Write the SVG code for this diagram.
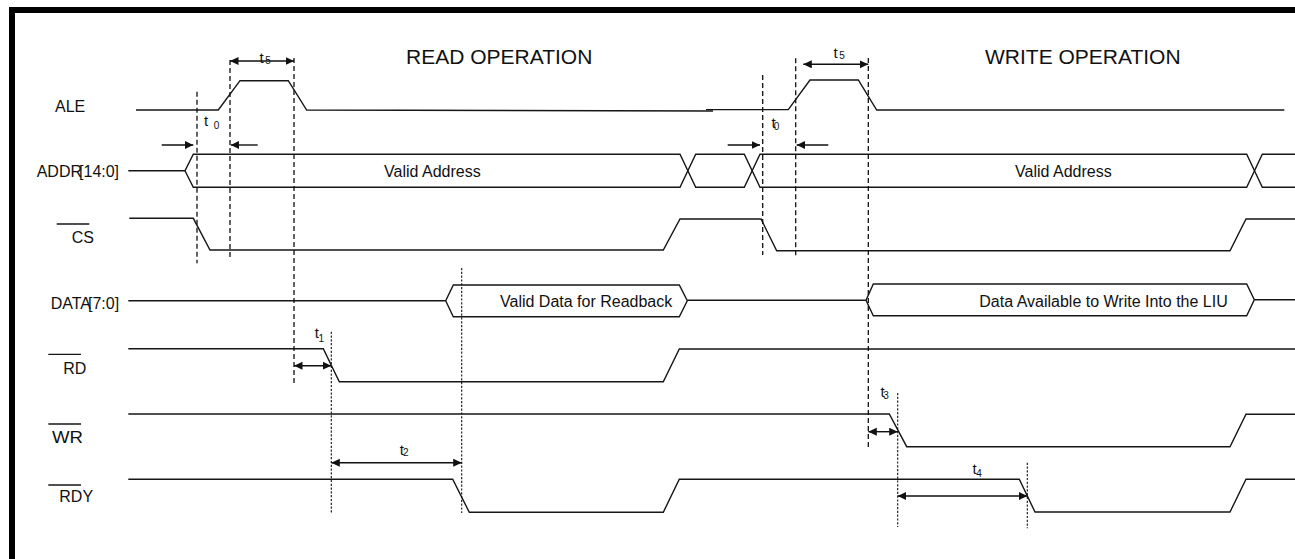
<svg xmlns="http://www.w3.org/2000/svg" width="1295" height="559" viewBox="0 0 1295 559">
<style>
text{font-family:"Liberation Sans",Arial,sans-serif;fill:#111}
.lbl{font-size:16px}
.ttl{font-size:21px}
.tm{font-size:15px}
.sub{font-size:10px}
.sig{fill:none;stroke:#161616;stroke-width:1.4;stroke-linejoin:miter}
.ov{stroke:#161616;stroke-width:1.3}
.dl{stroke:#111;stroke-width:1.3;stroke-dasharray:5,3;fill:none}
.df{stroke:#111;stroke-width:1.1;stroke-dasharray:2.2,1.6;fill:none}
.arr{stroke:#111;stroke-width:1.4;fill:none}
</style>
<defs>
<marker id="ah" markerUnits="userSpaceOnUse" markerWidth="10" markerHeight="9" refX="8.5" refY="4" orient="auto-start-reverse">
<path d="M0,0 L8.5,4 L0,8 z" fill="#111"/>
</marker>
</defs>
<rect width="1295" height="559" fill="#fff"/>
<g id="frame">
<rect x="9" y="7" width="1286" height="6" fill="#000"/>
<rect x="9" y="7" width="6" height="552" fill="#000"/>
</g>
<g id="titles">
<text class="ttl" x="406" y="64">READ OPERATION</text>
<text class="ttl" x="985" y="64">WRITE OPERATION</text>
</g>
<g id="ALE">
<text class="lbl" x="55" y="112">ALE</text>
<path class="sig" d="M136,110 L218.3,110 L240,80.7 L288.3,80.7 L306.7,110 L713,111"/>
<path class="sig" d="M706,109.6 L788.3,109.6 L810,80 L858.3,80 L876.7,110 L1284.3,110"/>
</g>
<g id="ADDR">
<text class="lbl" x="36.7" y="177">ADDR<tspan dx="-3">[14:0]</tspan></text>
<path class="sig" d="M128.3,170.8 L185,170.8"/>
<path class="sig" d="M185,170.8 L193.3,154.3 L680,154.3 L695.7,187.3 L744.3,187.3 L760,154.3 L1246.7,154.3 L1262.3,187.3 L1295,187.3"/>
<path class="sig" d="M185,170.8 L193.3,187.3 L680,187.3 L695.7,154.3 L744.3,154.3 L760,187.3 L1246.7,187.3 L1262.3,154.3 L1295,154.3"/>
<text class="lbl" x="384" y="177">Valid Address</text>
<text class="lbl" x="1015" y="177">Valid Address</text>
</g>
<g id="CS">
<line class="ov" x1="56.7" y1="224" x2="89.3" y2="224"/>
<text class="lbl" x="71.7" y="243.3">CS</text>
<path class="sig" d="M129.3,218.3 L193.3,218.3 L210,250 L663.3,250 L680,219 L761,219 L776.7,250.7 L1230,250.7 L1246,219 L1295,219"/>
</g>
<g id="DATA">
<text class="lbl" x="50.7" y="308.5">DATA<tspan dx="-3">[7:0]</tspan></text>
<path class="sig" d="M128.3,300.8 L445.7,300.8 L453.3,285 L679.3,285 L687.3,300.8 L679.3,316.7 L453.3,316.7 L445.7,300.8"/>
<path class="sig" d="M687.3,300.3 L866,300.3 L873.3,284 L1246.7,284 L1254.3,299.8 L1246.7,315.8 L873.3,315.8 L866,300.3"/>
<path class="sig" d="M1254.3,299.8 L1295,299.8"/>
<text class="lbl" x="500" y="306.7">Valid Data for Readback</text>
<text class="lbl" x="979.3" y="307.3">Data Available to Write Into the LIU</text>
</g>
<g id="RD">
<line class="ov" x1="48.3" y1="354.3" x2="81" y2="354.3"/>
<text class="lbl" x="63.3" y="374">RD</text>
<path class="sig" d="M128.3,348.7 L323.3,348.7 L339.3,381.7 L663.3,381.7 L679.3,349 L1295,349"/>
</g>
<g id="WR">
<line class="ov" x1="48.3" y1="424" x2="81" y2="424"/>
<text class="lbl" x="52" y="443.3" textLength="31" lengthAdjust="spacingAndGlyphs">WR</text>
<path class="sig" d="M128.3,414 L889.3,414 L906.7,446.7 L1230,446.7 L1246,414.3 L1295,414.3"/>
</g>
<g id="RDY">
<line class="ov" x1="48.3" y1="485" x2="81" y2="485"/>
<text class="lbl" x="59.3" y="502.3">RDY</text>
<path class="sig" d="M128.3,479.3 L452.7,479.3 L469.3,512.3 L663.3,512.3 L679.3,479.3 L1019.3,479.3 L1035,512 L1230,512 L1246,479.3 L1295,479.3"/>
</g>
<g id="guides">
<line class="dl" x1="197" y1="91.7" x2="197" y2="263.3"/>
<line class="dl" x1="230" y1="60" x2="230" y2="258.3"/>
<line class="dl" x1="294" y1="58" x2="294" y2="386"/>
<line class="dl" x1="762.7" y1="75" x2="762.7" y2="255"/>
<line class="dl" x1="795.7" y1="58.3" x2="795.7" y2="258.3"/>
<line class="dl" x1="868.3" y1="58" x2="868.3" y2="450"/>
<line class="df" x1="331.3" y1="331.7" x2="331.3" y2="512.7"/>
<line class="df" x1="461.7" y1="268" x2="461.7" y2="513"/>
<line class="df" x1="897.7" y1="393" x2="897.7" y2="527"/>
<line class="df" x1="1027.3" y1="462.7" x2="1027.3" y2="528.3"/>
</g>
<g id="connectors">
<line class="arr" x1="230" y1="61" x2="294" y2="61" marker-start="url(#ah)" marker-end="url(#ah)"/>
<line class="arr" x1="803.3" y1="64.3" x2="868.3" y2="64.3" marker-start="url(#ah)" marker-end="url(#ah)"/>
<line class="arr" x1="161.7" y1="145" x2="193.3" y2="145" marker-end="url(#ah)"/>
<line class="arr" x1="257.7" y1="145" x2="230.7" y2="145" marker-end="url(#ah)"/>
<line class="arr" x1="727.7" y1="145" x2="760" y2="145" marker-end="url(#ah)"/>
<line class="arr" x1="828.3" y1="145" x2="796.7" y2="145" marker-end="url(#ah)"/>
<line class="arr" x1="294" y1="365.7" x2="331.3" y2="365.7" marker-start="url(#ah)" marker-end="url(#ah)"/>
<line class="arr" x1="331.3" y1="462.7" x2="461.7" y2="462.7" marker-start="url(#ah)" marker-end="url(#ah)"/>
<line class="arr" x1="868.3" y1="431.7" x2="897.7" y2="431.7" marker-start="url(#ah)" marker-end="url(#ah)"/>
<line class="arr" x1="897.7" y1="496" x2="1027.3" y2="496" marker-start="url(#ah)" marker-end="url(#ah)"/>
</g>
<g id="timing-labels">
<text class="tm" x="259.5" y="62.7">t<tspan class="sub" dx="1.5" dy="1.3">5</tspan></text>
<text class="tm" x="833.5" y="58.3">t<tspan class="sub" dx="1.5" dy="1">5</tspan></text>
<text class="tm" x="204" y="126">t<tspan class="sub" dx="5.5" dy="3.3">0</tspan></text>
<text class="tm" x="771.5" y="127.5">t<tspan class="sub" dx="-1.8" dy="2.5">0</tspan></text>
<text class="tm" x="314.8" y="338.3">t<tspan class="sub" dx="-0.5" dy="3.4">1</tspan></text>
<text class="tm" x="399.8" y="455">t<tspan class="sub" dx="-1" dy="1">2</tspan></text>
<text class="tm" x="880.5" y="397.3">t<tspan class="sub" dx="-1.5" dy="2">3</tspan></text>
<text class="tm" x="972.5" y="474">t<tspan class="sub" dx="-0.5" dy="3.3">4</tspan></text>
</g>
</svg>
